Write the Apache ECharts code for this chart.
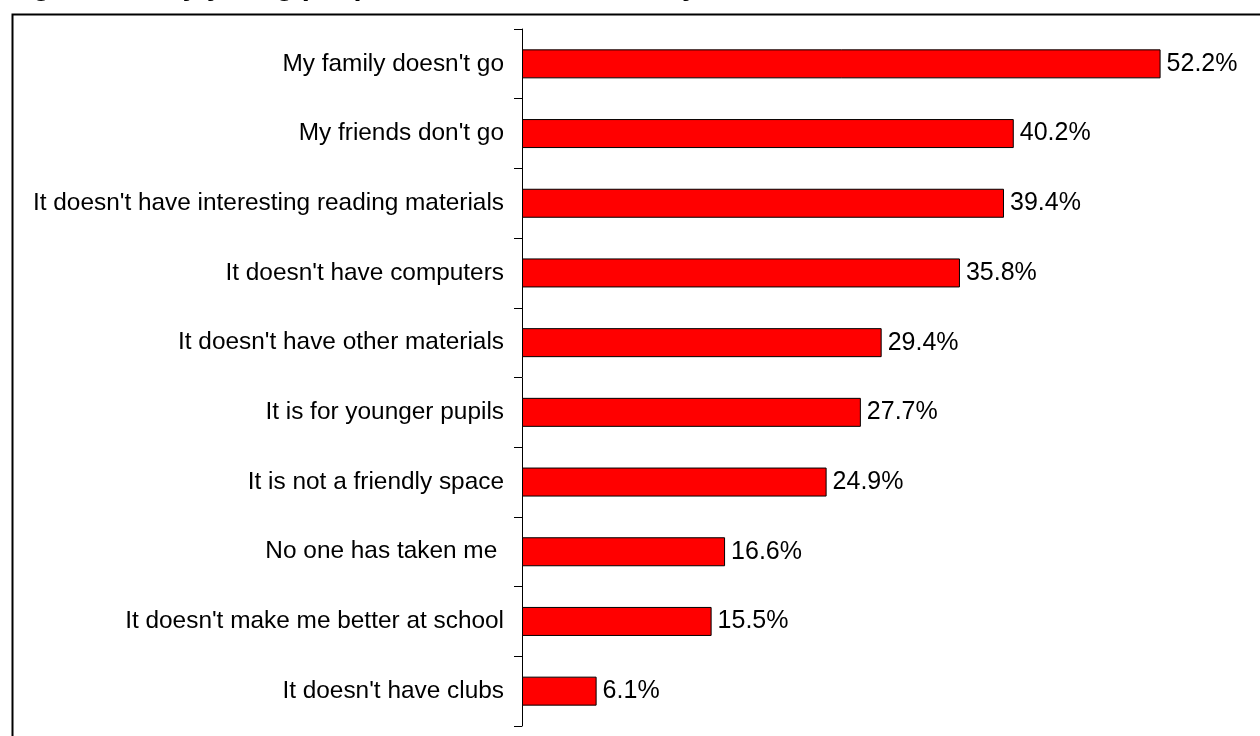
<!DOCTYPE html>
<html>
<head>
<meta charset="utf-8">
<script src="https://cdn.jsdelivr.net/npm/echarts@6/dist/echarts.min.js"></script>
<style>html,body{margin:0;padding:0;background:#fff;}#c{width:1260px;height:736px;}</style>
</head>
<body>
<div id="c"></div>
<script>
const titleText = "Figure 5: Why young people do not use the library";
const categories = [
  "My family doesn't go",
  "My friends don't go",
  "It doesn't have interesting reading materials",
  "It doesn't have computers",
  "It doesn't have other materials",
  "It is for younger pupils",
  "It is not a friendly space",
  "No one has taken me ",
  "It doesn't make me better at school",
  "It doesn't have clubs"
];
const values = [52.2, 40.2, 39.4, 35.8, 29.4, 27.7, 24.9, 16.6, 15.5, 6.1];

const chart = echarts.init(document.getElementById('c'), null, {renderer: 'canvas'});
chart.setOption({
  animation: false,
  backgroundColor: '#fff',
  title: {
    text: titleText,
    left: 7, top: -28, padding: 0,
    textStyle: {fontFamily: 'Liberation Sans, Arial, sans-serif', fontSize: 29, fontWeight: 'bold', color: '#000'}
  },
  graphic: [{
    type: 'rect', left: 10, top: 12, z: 100,
    shape: {x: 0, y: 0, width: 1270, height: 740},
    style: {fill: 'none', stroke: '#000', lineWidth: 2}
  }],
  grid: {left: 522, right: 4, top: 29, bottom: 10, containLabel: false, outerBoundsMode: 'none'},
  xAxis: {
    type: 'value', min: 0, max: 60, show: false,
    splitLine: {show: false}
  },
  yAxis: {
    type: 'category', data: categories, inverse: true,
    axisLine: {show: true, lineStyle: {color: '#000', width: 1}},
    axisTick: {show: true, length: 8, alignWithLabel: false, lineStyle: {color: '#000'}},
    axisLabel: {
      margin: 18, color: '#000',
      fontFamily: 'Liberation Sans, Arial, sans-serif',
      fontSize: 24.4
    }
  },
  series: [{
    type: 'bar', data: values, barWidth: 29,
    itemStyle: {color: '#ff0000', borderColor: '#000', borderWidth: 1},
    label: {
      show: true, position: 'right', distance: 6, color: '#000',
      fontFamily: 'Liberation Sans, Arial, sans-serif', fontSize: 25,
      formatter: p => p.value.toFixed(1) + '%'
    }
  }]
});
</script>
</body>
</html>
